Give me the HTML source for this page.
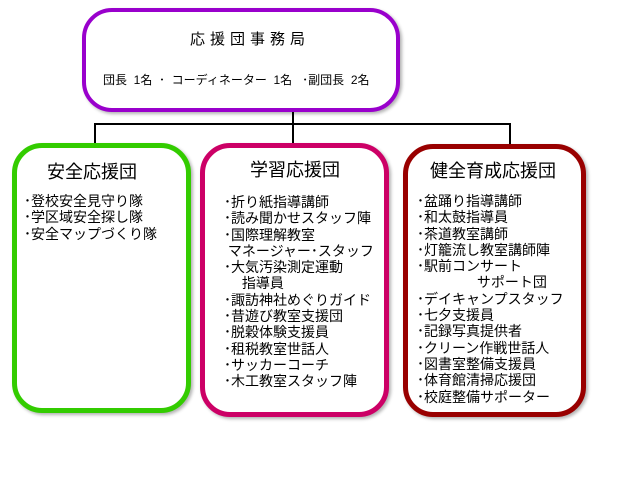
<!DOCTYPE html>
<html><head><meta charset="utf-8"><style>
body{margin:0;width:640px;height:480px;background:#fff;position:relative;font-family:"Liberation Sans","Noto Sans CJK JP",sans-serif;color:#000;overflow:hidden}
.b{position:absolute;background:#fff;box-sizing:border-box;box-shadow:2px 2px 3px rgba(0,0,0,.3)}
.t{position:absolute;white-space:nowrap}
.l{position:absolute;background:#000}
.it{position:absolute;font-size:14px;line-height:16.3px;white-space:pre}
</style></head><body>
<div class="b" style="left:82px;top:8px;width:318px;height:104px;border:4px solid #9900cc;border-radius:30px"></div>
<div class="t" style="left:190px;top:28px;font-size:15px;letter-spacing:5px">応援団事務局</div>
<div class="t" style="left:103px;top:71px;font-size:12px">団長 &nbsp;1名 &nbsp;･ &nbsp;コーディネーター &nbsp;1名 &nbsp;&nbsp;･副団長 &nbsp;2名</div>
<div class="l" style="left:292px;top:112px;width:2px;height:45px"></div>
<div class="l" style="left:94px;top:123px;width:417px;height:2px"></div>
<div class="l" style="left:94px;top:123px;width:2px;height:20px"></div>
<div class="l" style="left:509px;top:123px;width:2px;height:22px"></div>
<div class="b" style="left:12px;top:143px;width:179px;height:270px;border:5px solid #33cc00;border-radius:30px"></div>
<div class="b" style="left:200px;top:143px;width:189px;height:274px;border:5px solid #cc0066;border-radius:30px"></div>
<div class="b" style="left:403px;top:144px;width:183px;height:273px;border:5px solid #990000;border-radius:30px"></div>
<div class="t" style="left:47px;top:158px;font-size:18px">安全応援団</div>
<div class="t" style="left:250px;top:156px;font-size:18px">学習応援団</div>
<div class="t" style="left:430px;top:157px;font-size:18px">健全育成応援団</div>
<div class="it" style="left:24px;top:193px">･登校安全見守り隊
･学区域安全探し隊
･安全マップづくり隊</div>
<div class="it" style="left:224px;top:194px">･折り紙指導講師
･読み聞かせスタッフ陣
･国際理解教室
 マネージャー･スタッフ
･大気汚染測定運動
　 指導員
･諏訪神社めぐりガイド
･昔遊び教室支援団
･脱穀体験支援員
･租税教室世話人
･サッカーコーチ
･木工教室スタッフ陣</div>
<div class="it" style="left:417px;top:193px">･盆踊り指導講師
･和太鼓指導員
･茶道教室講師
･灯籠流し教室講師陣
･駅前コンサート
　　　　 サポート団
･デイキャンプスタッフ
･七夕支援員
･記録写真提供者
･クリーン作戦世話人
･図書室整備支援員
･体育館清掃応援団
･校庭整備サポーター</div>
</body></html>
